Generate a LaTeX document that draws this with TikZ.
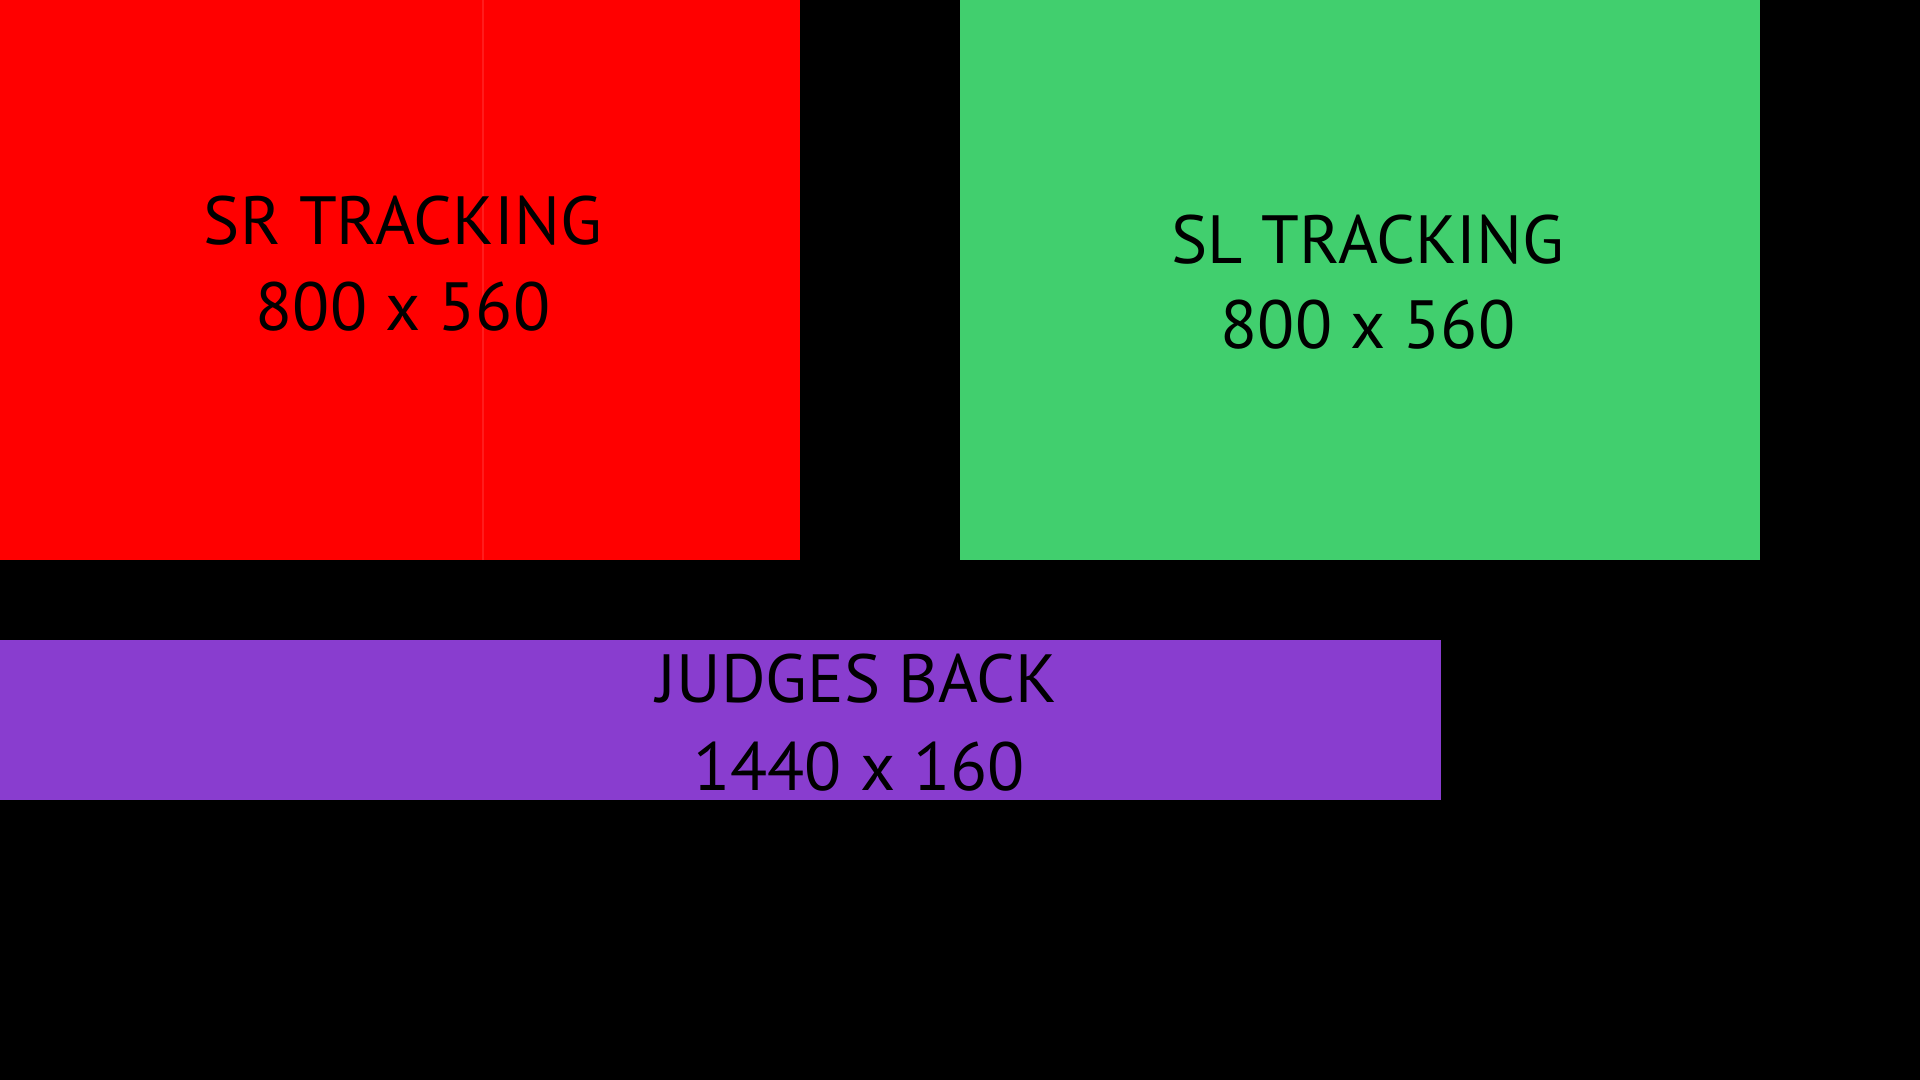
\documentclass[tikz,border=0pt]{standalone}
\usepackage{fontspec}
\setmainfont{PT Sans}
\definecolor{srred}{HTML}{FF0000}
\definecolor{srstreak}{HTML}{FF1C1C}
\definecolor{slgreen}{HTML}{41CF6E}
\definecolor{judgepurple}{HTML}{893DCF}
\tikzset{
  zone/.style={inner sep=0pt, outer sep=0pt, anchor=north west, draw=none},
  srzone/.style={zone, fill=srred, minimum width=8cm, minimum height=5.6cm},
  slzone/.style={zone, fill=slgreen, minimum width=8cm, minimum height=5.6cm},
  judgezone/.style={zone, fill=judgepurple, minimum width=14.4cm, minimum height=1.6cm},
  zonetext/.style={anchor=base, inner sep=0pt, text=black,
                   font=\fontsize{19.4}{24}\selectfont},
}

\begin{document}
\begin{tikzpicture}[x=0.01cm, y=-0.01cm]
    \fill[black] (0,0) rectangle (1920,1080);
    \useasboundingbox (0,0) rectangle (1920,1080);
    \node[srzone] (sr) at (0,0) {};
    \node[slzone] (sl) at (960,0) {};
    \node[judgezone] (judges) at (0,640) {};
    \draw[srstreak, line width=0.5pt] (sr.north west) ++(483,0) coordinate (streaktop)
      -- (streaktop |- sr.south);
    \node[zonetext] (srtitle) at (403,245) {SR TRACKING};
    \node[zonetext] (srsize) at (403,331) {800 x 560};
    \node[zonetext] (sltitle) at (1368,264) {SL TRACKING};
    \node[zonetext] (slsize) at (1368,349) {800 x 560};
    \node[zonetext] (judgetitle) at (857,703) {JUDGES BACK};
    \node[zonetext] (judgesize) at (859,791) {1440 x 160};
  \end{tikzpicture}
\end{document}
